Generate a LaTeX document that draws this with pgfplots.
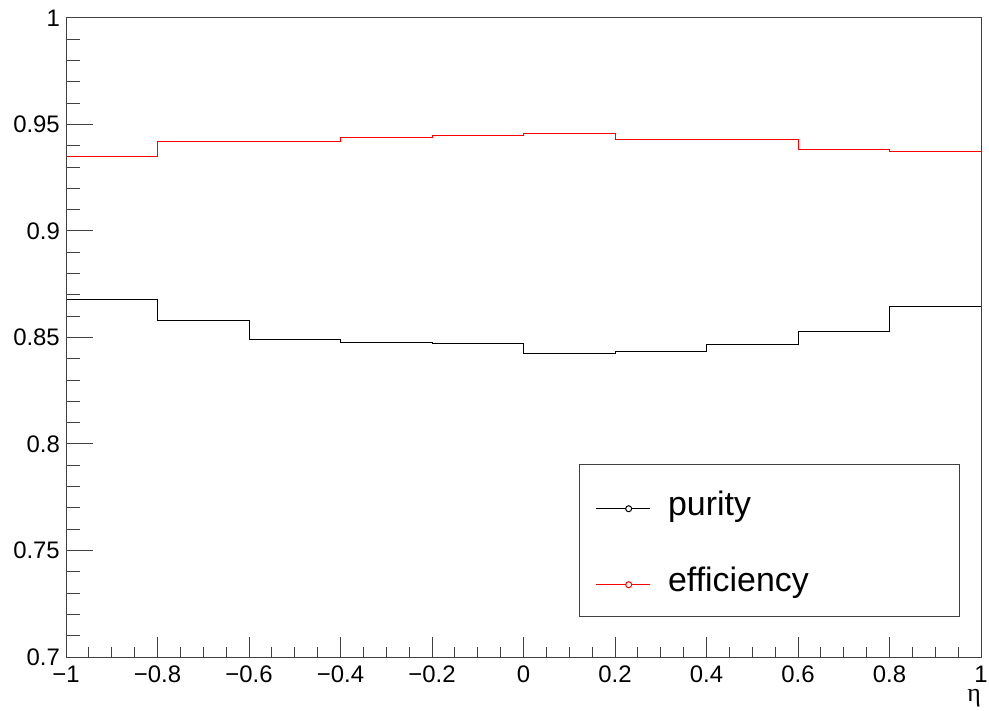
\documentclass[border=0pt]{standalone}
\usepackage{fontspec}
\setmainfont{Liberation Sans}
\newfontfamily\greekserif{Liberation Serif}
\usepackage{pgfplots}
\pgfplotsset{compat=1.18}
\definecolor{rootred}{RGB}{255,0,0}
\begin{document}
\begin{tikzpicture}
\begin{axis}[
  name=main,
  at={(0,0)}, anchor=south west,
  scale only axis, width=915bp, height=639bp,
  xmin=-1, xmax=1, ymin=0.7, ymax=1,
  axis line style={black!75, line width=1bp},
  xtick=\empty,
  ytick={0.7,0.75,0.8,0.85,0.9,0.95,1},
  yticklabels={0.7,0.75,0.8,0.85,0.9,0.95,1},
  minor y tick num=4,
  ytick pos=left,
  tick align=inside,
  major tick length=27bp, minor tick length=14bp,
  tick style={black!75, line width=1bp},
  yticklabel style={font=\fontsize{24}{24}\selectfont, inner sep=0pt, anchor=east, xshift=-6bp},
  legend style={draw=none, fill=none, at={(0.5781,0.2535)}, anchor=north west,
    inner sep=0pt, row sep=49bp, column sep=18bp,
    font=\fontsize{34}{34}\selectfont,
    nodes={inner sep=0pt, text height=20bp, text depth=7bp}},
  legend cell align=left,
  legend image code/.code={
    \draw[#1, mark=none] (0bp,0bp) -- (54bp,0bp);
    \draw[#1, mark=none, fill=white] (33bp,0bp) circle (3bp);
  },
]
\addplot[const plot, black, line width=1bp] coordinates {
  (-1,0.8680) (-0.8,0.8581) (-0.6,0.8492) (-0.4,0.8477) (-0.2,0.8474)
  (0,0.8427) (0.2,0.8432) (0.4,0.8469) (0.6,0.8529) (0.8,0.8646) (1,0.8646)
};
\addlegendentry{purity}
\addplot[const plot, rootred, line width=1bp] coordinates {
  (-1,0.9352) (-0.8,0.9421) (-0.6,0.9421) (-0.4,0.9437) (-0.2,0.9450)
  (0,0.9456) (0.2,0.9431) (0.4,0.9431) (0.6,0.9384) (0.8,0.9371) (1,0.9371)
};
\addlegendentry{efficiency}
\draw[black!75, line width=1bp] (rel axis cs:0.5617,0.0626) rectangle (rel axis cs:0.976,0.3005);
\end{axis}
\begin{axis}[
  at={(main.south west)}, anchor=south west,
  scale only axis, width=915bp, height=639bp,
  xmin=-1, xmax=1, ymin=0.7, ymax=1,
  axis line style={black!75, line width=1bp},
  ytick=\empty,
  xtick={-1,-0.8,-0.6,-0.4,-0.2,0,0.2,0.4,0.6,0.8,1},
  xticklabels={−1,−0.8,−0.6,−0.4,−0.2,0,0.2,0.4,0.6,0.8,1},
  minor x tick num=3,
  xtick pos=lower,
  tick align=inside,
  major tick length=20bp, minor tick length=10bp,
  tick style={black!75, line width=1bp},
  xticklabel style={font=\fontsize{24}{24}\selectfont, inner sep=0pt, anchor=north, yshift=-9bp},
  xlabel={\greekserif η},
  xlabel style={at={(rel axis cs:1,0)}, anchor=north east, inner sep=0pt, yshift=-32bp, font=\fontsize{26}{26}\selectfont},
]
\end{axis}
\pgfresetboundingbox
\path (main.south west) ++(-66bp,-54bp) rectangle ++(989bp,711bp);
\end{tikzpicture}
\end{document}
